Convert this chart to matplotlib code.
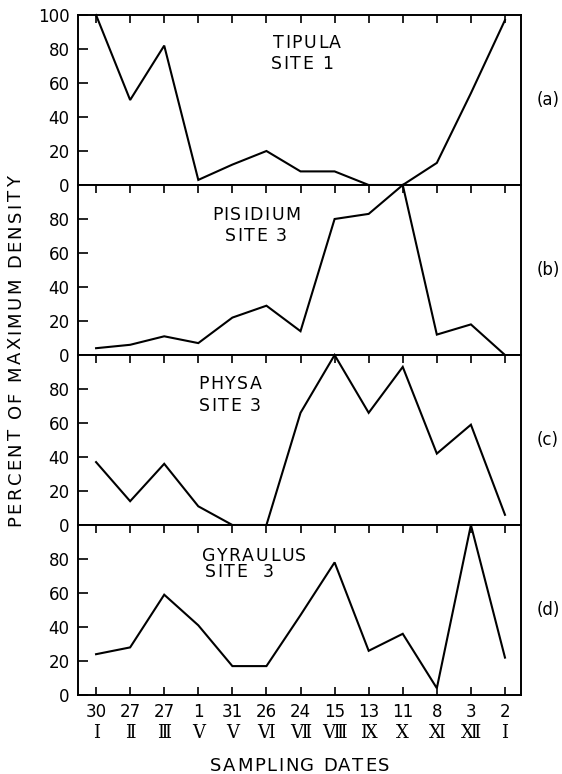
import matplotlib
matplotlib.use("Agg")
import matplotlib.pyplot as plt
from matplotlib.transforms import blended_transform_factory
from matplotlib.font_manager import FontProperties, findfont, get_font
from matplotlib.ft2font import LOAD_NO_HINTING

# Sampling dates (day of month, month as roman numeral)
day_labels = ["30", "27", "27", "1", "31", "26", "24", "15", "13", "11", "8", "3", "2"]
month_labels = ["Ⅰ", "Ⅱ", "Ⅲ", "Ⅴ", "Ⅴ", "Ⅵ", "Ⅶ", "Ⅷ", "Ⅸ", "Ⅹ", "Ⅺ", "Ⅻ", "Ⅰ"]

# Percent of maximum density per taxon
tipula_site1 = [100, 50, 82, 3, 12, 20, 8, 8, 0, 0, 13, 54, 97]
pisidium_site3 = [4, 6, 11, 7, 22, 29, 14, 80, 83, 100, 12, 18, 0]
physa_site3 = [37, 14, 36, 11, 0, 0, 66, 100, 66, 93, 42, 59, 6]
gyraulus_site3 = [24, 28, 59, 41, 17, 17, 47, 78, 26, 36, 4, 100, 22]

panels = [
    (tipula_site1, ["TIPULA", "SITE 1"], "(a)"),
    (pisidium_site3, ["PISIDIUM", "SITE 3"], "(b)"),
    (physa_site3, ["PHYSA", "SITE 3"], "(c)"),
    (gyraulus_site3, ["GYRAULUS", "SITE  3"], "(d)"),
]
# centre (x, y) in pixels of each line of the panel names
name_pos = [
    [(307, 41.5), (302, 63)],
    [(256, 214), (256, 235)],
    [(230, 383), (230, 405)],
    [(254, 554.5), (239, 571)],
]

W, H = 562, 774
fig = plt.figure(figsize=(W / 100, H / 100), dpi=100)
plt.rcParams["font.family"] = ["DejaVu Sans"]


def spaced_text(cx, cy, s, size, track, rotation=0):
    """Draw s centred at pixel (cx, cy) (y from top) with extra letter spacing."""
    prop = FontProperties(family="DejaVu Sans", size=size)
    font = get_font(findfont(prop))
    font.set_size(size, 100)
    adv = []
    for ch in s:
        g = font.load_char(ord(ch), flags=LOAD_NO_HINTING)
        adv.append(g.linearHoriAdvance / 65536)
    total = sum(adv) + track * (len(s) - 1)
    cap = 0.729 * size * 100 / 72
    pos = -total / 2
    for ch, a in zip(s, adv):
        if rotation == 0:
            px, py = cx + pos, cy + cap / 2
        else:
            px, py = cx + cap / 2, cy - pos
        fig.text(px / W, 1 - py / H, ch, fontproperties=prop, rotation=rotation,
                 rotation_mode="anchor", ha="left", va="baseline")
        pos += a + track


left_px, right_px = 78, 521
top_px, bottom_px = 15, 695
ph = (bottom_px - top_px) / 4
x = list(range(len(day_labels)))
fs = 11.5

axes = []
for i, (vals, name, tag) in enumerate(panels):
    y0 = top_px + ph * (i + 1)
    ax = fig.add_axes([left_px / W, 1 - y0 / H, (right_px - left_px) / W, ph / H])
    ax.plot(x, vals, color="black", lw=1.5, clip_on=False, solid_joinstyle="miter")
    ax.set_xlim(-0.53, 12.47)
    ax.set_ylim(0, 100)
    if i == 0:
        ax.set_yticks([0, 20, 40, 60, 80, 100])
    else:
        ax.set_yticks([0, 20, 40, 60, 80])
    ax.set_xticks(x)
    last = i == len(panels) - 1
    ax.tick_params(axis="x", direction="in", top=True, bottom=last,
                   labelbottom=last, length=6, width=1.2, labelsize=fs + 0.5, pad=6)
    ax.tick_params(axis="y", direction="in", left=True, right=False,
                   length=7, width=1.2, labelsize=fs + 0.5, pad=6)
    if last:
        ax.set_xticklabels(day_labels)
    for s in ax.spines.values():
        s.set_linewidth(1.4)
    for line, (cx, cy) in zip(name, name_pos[i]):
        spaced_text(cx, cy, line, 12.5, 1.5)
    ax.text(1.035, 0.5, tag, transform=ax.transAxes, ha="left", va="center",
            fontsize=fs + 0.5)
    axes.append(ax)

# Month numerals under the day labels
axd = axes[-1]
tr = blended_transform_factory(axd.transData, fig.transFigure)
for xi, m in zip(x, month_labels):
    axd.text(xi, 1 - 733 / H, m, transform=tr, ha="center", va="center",
             fontsize=fs + 1.5, family=["DejaVu Serif", "DejaVu Sans"])

spaced_text(14, 351, "PERCENT OF MAXIMUM DENSITY", 13, 2.3, rotation=90)
spaced_text((left_px + right_px) / 2, 764, "SAMPLING DATES", 13, 1.6)

fig.savefig("out.png", dpi=100)
